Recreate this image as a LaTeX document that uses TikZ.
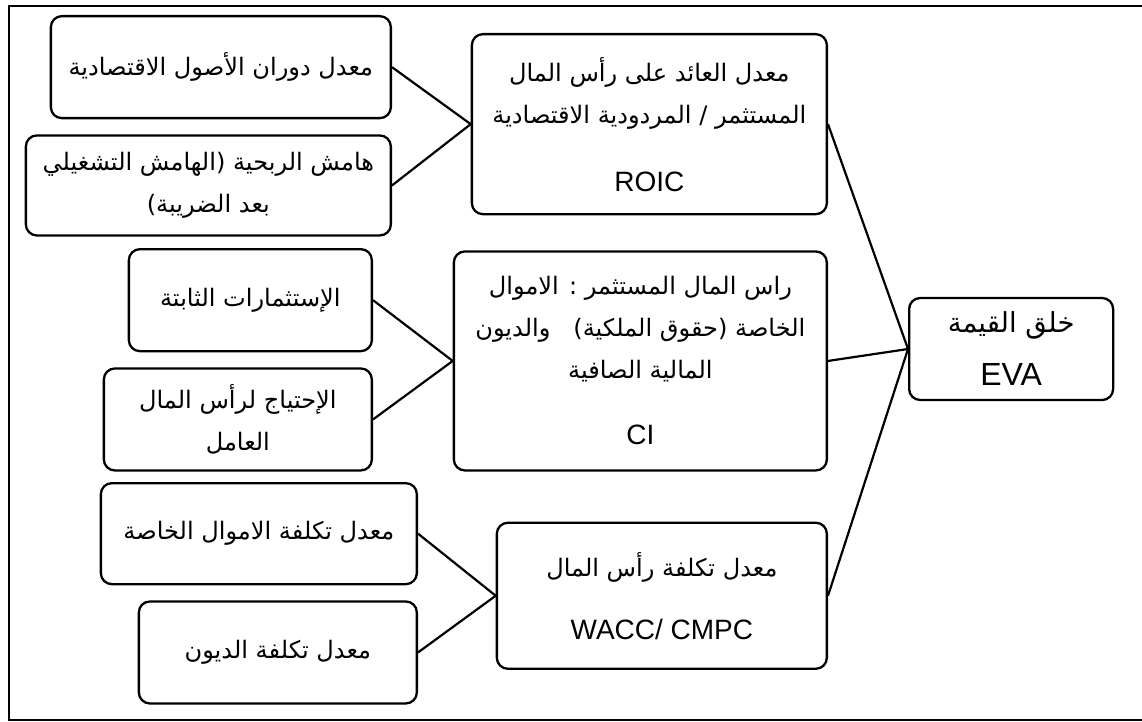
\documentclass[tikz,border=0pt]{standalone}
\usepackage{fontspec}
\setmainfont{Liberation Sans}
\newfontfamily\arabicfont[Script=Arabic,Scale=0.86]{DejaVu Sans}
\TeXXeTstate=1
\usetikzlibrary{positioning}
\newcommand{\artxt}[1]{{\arabicfont\beginR #1\endR}}
\tikzstyle{factor} = [rectangle, 
rounded corners=11pt, 
draw=black, 
line width=2.3pt, 
inner sep=2pt, 
align=center, 
font=\fontsize{28}{42}\selectfont]
\tikzstyle{result} = [factor, 
font=\fontsize{32}{53}\selectfont]
\tikzstyle{link} = [line width=2.2pt,draw=black]

\begin{document}
\begin{tikzpicture}[x=1pt, y=-1pt]
        \useasboundingbox (0,0) rectangle (1142,722);
        % Marco exterior
        \draw [line width=2pt] (1150,6) -- (9,6) -- (9,720) -- (1150,720);

        % Columna central
        \node [factor, minimum width=355pt, minimum height=180pt, anchor=north east] (roic) at (828,33) {\artxt{معدل العائد على رأس المال}\\ \artxt{المستثمر / المردودية الاقتصادية}\\[26pt] ROIC};
        \node [factor, minimum width=373pt, minimum height=219pt, below=35pt of roic.south east, anchor=north east] (ci) {\artxt{راس المال المستثمر : الاموال}\\ \artxt{الخاصة (حقوق الملكية)\ \ \ والديون}\\ \artxt{المالية الصافية}\\[24pt] CI};
        \node [factor, minimum width=330pt, minimum height=146pt, below=50pt of ci.south east, anchor=north east] (wacc) {\artxt{معدل تكلفة رأس المال}\\[21pt] WACC/ CMPC};
        \node [result, minimum width=204pt, minimum height=102pt, anchor=west] (eva) at (908,349) {\artxt{خلق القيمة}\\ EVA};

        % Columna izquierda
        \node [factor, minimum width=340pt, minimum height=102pt, anchor=north east] (rot) at (392,15) {\artxt{معدل دوران الأصول الاقتصادية}};
        \node [factor, minimum width=365pt, minimum height=100pt, below=15pt of rot.south east, anchor=north east] (marge) {\artxt{هامش الربحية (الهامش التشغيلي}\\ \artxt{بعد الضريبة)}};
        \node [factor, minimum width=243pt, minimum height=102pt, anchor=north east] (immo) at (373,248) {\artxt{الإستثمارات الثابتة}};
        \node [factor, minimum width=268pt, minimum height=102pt, below=15pt of immo.south east, anchor=north east] (bfr) {\artxt{الإحتياج لرأس المال}\\ \artxt{العامل}};
        \node [factor, minimum width=316pt, minimum height=101pt, anchor=north east] (kcp) at (418,482) {\artxt{معدل تكلفة الاموال الخاصة}};
        \node [factor, minimum width=278pt, minimum height=102pt, below=15pt of kcp.south east, anchor=north east] (kd) {\raisebox{-10pt}{\artxt{معدل تكلفة الديون}}};

        % Conexiones
        \path [link] (rot.east) -- (roic.west);
        \path [link] (marge.east) -- (roic.west);
        \path [link] (immo.east) -- (ci.west);
        \path [link] (bfr.east) -- (ci.west);
        \path [link] (kcp.east) -- (wacc.west);
        \path [link] (kd.east) -- (wacc.west);
        \path [link] (roic.east) -- (eva.west);
        \path [link] (ci.east) -- (eva.west);
        \path [link] (wacc.east) -- (eva.west);
\end{tikzpicture}
\end{document}
